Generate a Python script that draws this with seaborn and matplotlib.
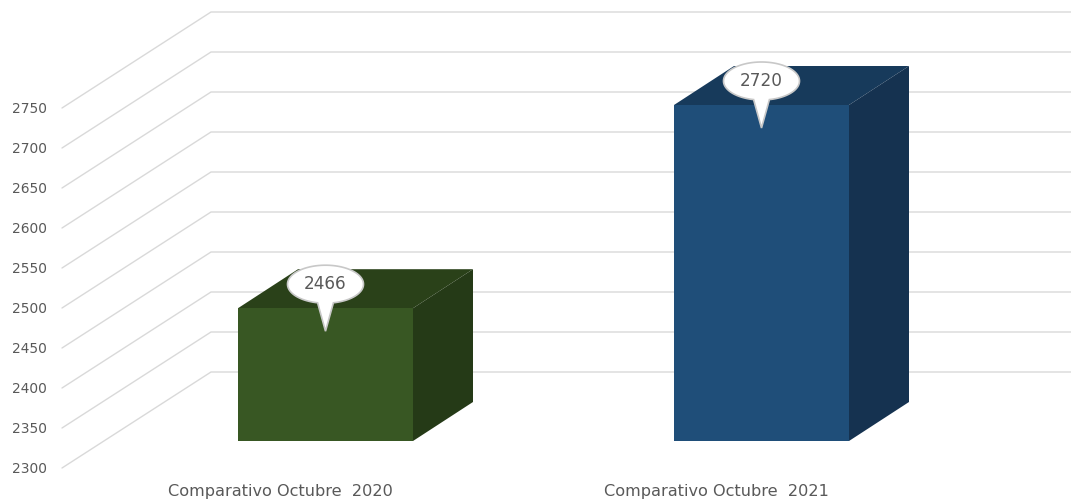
import numpy as np
import pandas as pd
import seaborn as sns
import matplotlib.pyplot as plt
from matplotlib.patches import Polygon

categories = ["Comparativo Octubre  2020", "Comparativo Octubre  2021"]
values = [2466, 2720]
front_colors = ["#385723", "#1F4E79"]
top_colors = ["#2A4119", "#173A5B"]
side_colors = ["#253A17", "#153250"]
tick_values = [2300, 2350, 2400, 2450, 2500, 2550, 2600, 2650, 2700, 2750]

GRID = "#D9D9D9"
TEXT = "#595959"

# pixel scales of the picture, the axes fill the whole figure
PX_X = 436.0      # px per category
PX_Y = 0.8        # px per unit
BASE = 2300

df = pd.DataFrame({"cat": categories, "height": [v - BASE for v in values]})

sns.set_theme(style="white")
plt.rcParams["font.family"] = ["DejaVu Sans"]

fig = plt.figure(figsize=(10.71, 5), dpi=100)
ax = fig.add_axes([0, 0, 1, 1])


def px(dx):
    return dx / PX_X


def py(dy):
    return dy / PX_Y


# walls: front edge is 27px below the bar floor
def wall_pts(t):
    v = t - py(27)
    x0 = px(62 - 325.5)
    x1 = px(211 - 325.5)
    x2 = px(1071 - 325.5)
    return [x0, x1, x2], [v, v + py(96), v + py(96)]


for t in tick_values:
    xs, ys = wall_pts(t)
    ax.plot(xs, ys, color=GRID, lw=1.0, zorder=1, solid_joinstyle="miter")
    ax.text(px(47 - 325.5), ys[0] - py(1), str(t), ha="right", va="center",
            fontsize=9.9, color=TEXT)

sns.barplot(data=df, x="cat", y="height", hue="cat", palette=front_colors, legend=False,
            width=175 / PX_X, saturation=1, ax=ax, zorder=4, bottom=BASE, linewidth=0)

half = 175 / PX_X / 2
for i, v in enumerate(values):
    depth_x, depth_y = px(60), py(39)
    left, right = i - half, i + half
    ax.add_patch(Polygon([(left, v), (right, v), (right + depth_x, v + depth_y), (left + depth_x, v + depth_y)],
                         closed=True, fc=top_colors[i], ec="none", zorder=3))
    ax.add_patch(Polygon([(right, BASE), (right + depth_x, BASE + depth_y), (right + depth_x, v + depth_y), (right, v)],
                         closed=True, fc=side_colors[i], ec="none", zorder=3))

    # callout: ellipse with a spike, as one outline
    cy = v + py(24)
    a = px(38)
    b = py(19)
    gap = np.radians(12)
    th = np.linspace(-np.pi / 2 + gap, 3 * np.pi / 2 - gap, 120)
    pts = list(zip(i + a * np.cos(th), cy + b * np.sin(th)))
    pts.append((i, v - py(23)))
    ax.add_patch(Polygon(pts, closed=True, fc="white", ec="#C8C8C8", lw=1.2, zorder=5))
    ax.text(i, cy, str(v), ha="center", va="center", fontsize=12.2, color=TEXT, zorder=6)

    ax.text(i - px(45), BASE - py(50.5), categories[i], ha="center", va="center",
            fontsize=11.6, color=TEXT)

ax.set_xlim(px(-325.5), px(1071 - 325.5))
ax.set_ylim(BASE - py(500 - 441), BASE + py(441))
ax.axis("off")

fig.savefig("out.png", dpi=100)
